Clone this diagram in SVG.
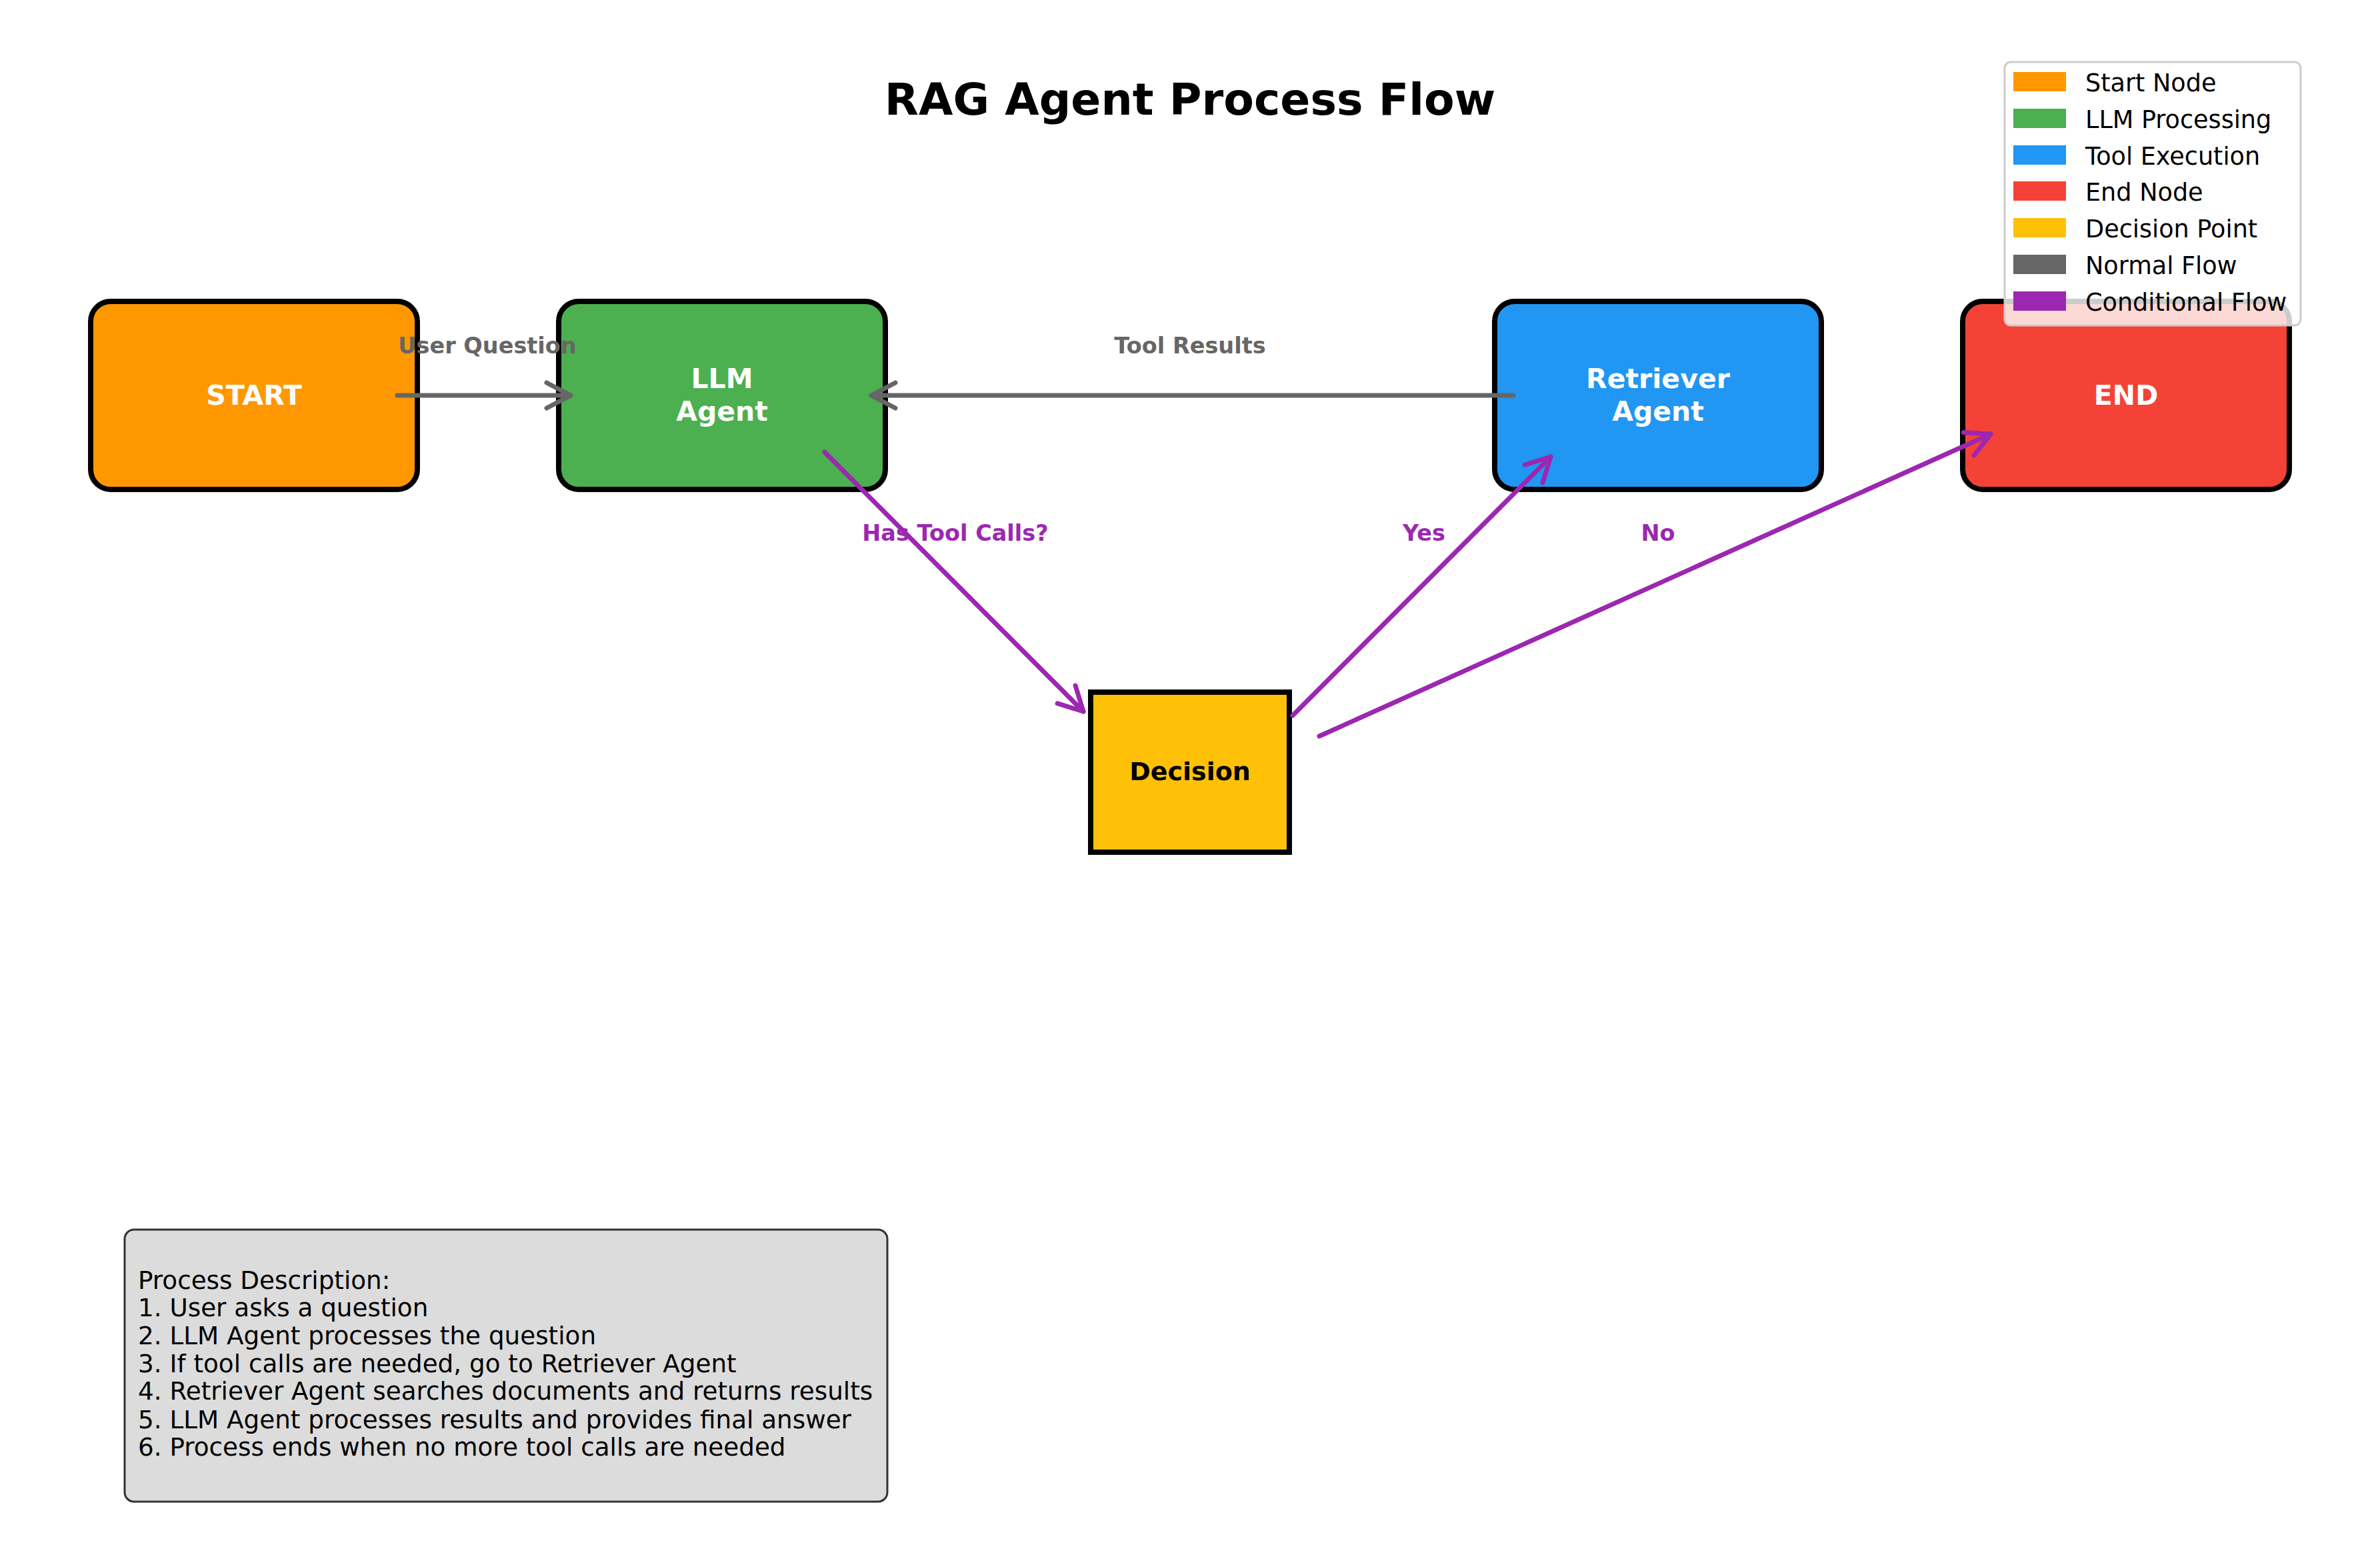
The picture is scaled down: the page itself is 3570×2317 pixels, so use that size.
<svg xmlns="http://www.w3.org/2000/svg" width="3570" height="2317" viewBox="0 0 3570 2317">
<style>
  .node { stroke: #000; stroke-width: 8; }
  .nlabel { font-family: "DejaVu Sans", sans-serif; font-weight: bold; font-size: 41px; fill: #fff; text-anchor: middle; }
  .gray { fill: none; stroke: #666666; stroke-width: 7; stroke-linecap: round; }
  .purple { fill: none; stroke: #9c27b0; stroke-width: 7; stroke-linecap: round; }
  .glabel { font-family: "DejaVu Sans", sans-serif; font-weight: bold; font-size: 33.5px; fill: #666666; text-anchor: middle; }
  .plabel { font-family: "DejaVu Sans", sans-serif; font-weight: bold; font-size: 33.5px; fill: #9c27b0; text-anchor: middle; }
  .leg { font-family: "DejaVu Sans", sans-serif; font-size: 36.6px; fill: #000; }
  .desc { font-family: "DejaVu Sans", sans-serif; font-size: 37.3px; fill: #000; }
</style>
<defs>
  <marker id="ahGray" markerUnits="userSpaceOnUse" viewBox="-45 -25 50 50" markerWidth="50" markerHeight="50" refX="0" refY="0" orient="auto" overflow="visible">
    <path d="M-36,-19 L0,0 L-36,19" fill="none" stroke="#666666" stroke-width="7" stroke-linecap="round" stroke-linejoin="round"/>
  </marker>
  <marker id="ahPurple" markerUnits="userSpaceOnUse" viewBox="-45 -25 50 50" markerWidth="50" markerHeight="50" refX="0" refY="0" orient="auto" overflow="visible">
    <path d="M-36,-19 L0,0 L-36,19" fill="none" stroke="#9c27b0" stroke-width="7" stroke-linecap="round" stroke-linejoin="round"/>
  </marker>
</defs>
<rect width="3570" height="2317" fill="#fff"/>

<text x="1785" y="172" font-family="DejaVu Sans, sans-serif" font-weight="bold" font-size="66.5" text-anchor="middle">RAG Agent Process Flow</text>

<g id="node-start">
  <rect class="node" x="136" y="452" width="490" height="282" rx="30" fill="#ff9800"/>
  <text class="nlabel" x="381" y="607">START</text>
</g>
<g id="node-llm">
  <rect class="node" x="838" y="452" width="490" height="282" rx="30" fill="#4caf50"/>
  <text class="nlabel" x="1083" y="582">LLM</text>
  <text class="nlabel" x="1083" y="631">Agent</text>
</g>
<g id="node-retriever">
  <rect class="node" x="2242" y="452" width="490" height="282" rx="30" fill="#2196f3"/>
  <text class="nlabel" x="2487" y="582">Retriever</text>
  <text class="nlabel" x="2487" y="631">Agent</text>
</g>
<g id="node-end">
  <rect class="node" x="2944" y="452" width="490" height="282" rx="30" fill="#f44336"/>
  <text class="nlabel" x="3189" y="607">END</text>
</g>
<g id="node-decision">
  <rect class="node" x="1636" y="1038" width="298" height="240" fill="#ffc107"/>
  <text x="1785" y="1170" font-family="DejaVu Sans, sans-serif" font-weight="bold" font-size="38" text-anchor="middle" fill="#000">Decision</text>
</g>

<g id="connectors">
  <path class="gray" d="M596,593 L856,593" marker-end="url(#ahGray)"/>
  <path class="gray" d="M2270,593 L1307,593" marker-end="url(#ahGray)"/>
  <path class="purple" d="M1237,678 L1625,1067" marker-end="url(#ahPurple)"/>
  <path class="purple" d="M1939,1073 L2326,685" marker-end="url(#ahPurple)"/>
  <path class="purple" d="M1979,1104 L2986,651" marker-end="url(#ahPurple)"/>
  <text class="glabel" x="731" y="530">User Question</text>
  <text class="glabel" x="1785" y="530">Tool Results</text>
  <text class="plabel" x="1433" y="811">Has Tool Calls?</text>
  <text class="plabel" x="2136" y="811">Yes</text>
  <text class="plabel" x="2487" y="811">No</text>
</g>

<g id="legend">
  <rect x="3007" y="93" width="444" height="395" rx="9" fill="#fff" fill-opacity="0.8" stroke="#cccccc" stroke-width="3"/>
  <rect x="3020" y="108" width="79" height="29" fill="#ff9800"/>
  <rect x="3020" y="163" width="79" height="29" fill="#4caf50"/>
  <rect x="3020" y="218" width="79" height="29" fill="#2196f3"/>
  <rect x="3020" y="272" width="79" height="29" fill="#f44336"/>
  <rect x="3020" y="327" width="79" height="29" fill="#ffc107"/>
  <rect x="3020" y="382" width="79" height="29" fill="#666666"/>
  <rect x="3020" y="437" width="79" height="29" fill="#9c27b0"/>
  <text class="leg" x="3128" y="137">Start Node</text>
  <text class="leg" x="3128" y="192">LLM Processing</text>
  <text class="leg" x="3128" y="247">Tool Execution</text>
  <text class="leg" x="3128" y="301">End Node</text>
  <text class="leg" x="3128" y="356">Decision Point</text>
  <text class="leg" x="3128" y="411">Normal Flow</text>
  <text class="leg" x="3128" y="466">Conditional Flow</text>
</g>

<g id="description">
  <rect x="187" y="1844" width="1144" height="408" rx="14" fill="#dcdcdc" stroke="#333333" stroke-width="3"/>
  <text class="desc" x="207" y="1933">Process Description:</text>
  <text class="desc" x="207" y="1974">1. User asks a question</text>
  <text class="desc" x="207" y="2016">2. LLM Agent processes the question</text>
  <text class="desc" x="207" y="2058">3. If tool calls are needed, go to Retriever Agent</text>
  <text class="desc" x="207" y="2099">4. Retriever Agent searches documents and returns results</text>
  <text class="desc" x="207" y="2142">5. LLM Agent processes results and provides final answer</text>
  <text class="desc" x="207" y="2183">6. Process ends when no more tool calls are needed</text>
</g>
</svg>
